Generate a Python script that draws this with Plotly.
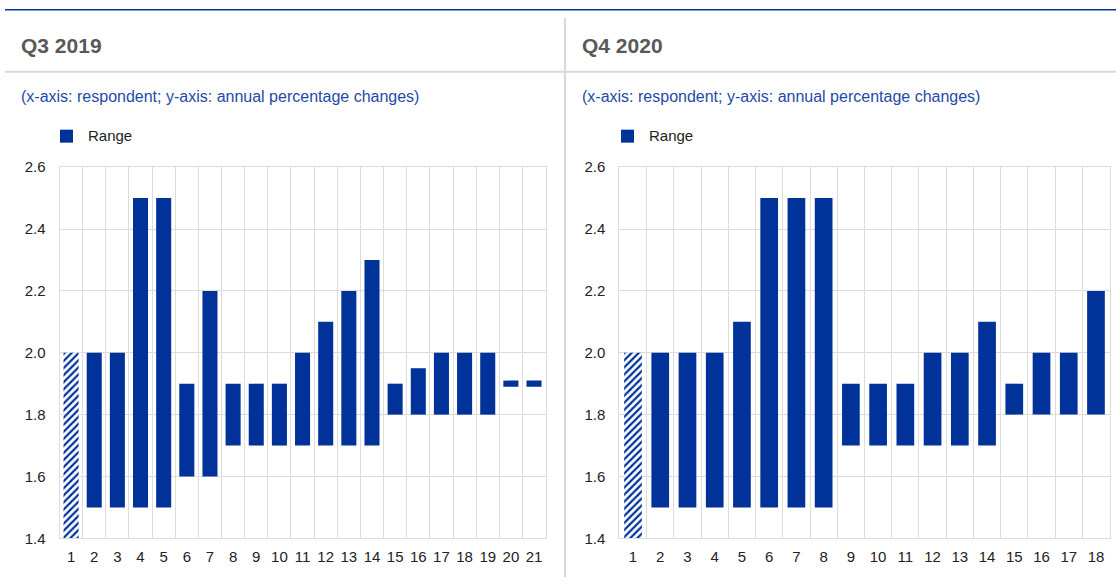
import plotly.graph_objects as go

BLUE = "#003299"
GRID = "#dcdcdc"
FONT = "Arial, Liberation Sans, sans-serif"

panel_titles = ["Q3 2019", "Q4 2020"]
subtitle = "(x-axis: respondent; y-axis: annual percentage changes)"
legend_label = "Range"

# Q3 2019 ranges (respondent 1 lower bound falls below the axis minimum)
q3_2019_resp = [str(i) for i in range(1, 22)]
q3_2019_low = [1.3, 1.5, 1.5, 1.5, 1.5, 1.6, 1.6, 1.7, 1.7, 1.7, 1.7, 1.7, 1.7, 1.7,
               1.8, 1.8, 1.8, 1.8, 1.8, 1.89, 1.89]
q3_2019_high = [2.0, 2.0, 2.0, 2.5, 2.5, 1.9, 2.2, 1.9, 1.9, 1.9, 2.0, 2.1, 2.2, 2.3,
                1.9, 1.95, 2.0, 2.0, 2.0, 1.91, 1.91]

# Q4 2020 ranges
q4_2020_resp = [str(i) for i in range(1, 19)]
q4_2020_low = [1.3, 1.5, 1.5, 1.5, 1.5, 1.5, 1.5, 1.5, 1.7, 1.7, 1.7, 1.7, 1.7, 1.7,
               1.8, 1.8, 1.8, 1.8]
q4_2020_high = [2.0, 2.0, 2.0, 2.0, 2.1, 2.5, 2.5, 2.5, 1.9, 1.9, 1.9, 2.0, 2.0, 2.1,
                1.9, 2.0, 2.0, 2.2]

y_min, y_max, y_step = 1.4, 2.6, 0.2

W, H = 1116, 585
# layout helpers: reference pixel position -> paper fraction
V_OFF, V_SCALE = 8.23, 0.9717
def px(x): return min(max(x / W, 0), 1)
def py(y): return min(max(1 - ((y - V_OFF) / V_SCALE) / H, 0), 1)

fig = go.Figure()

panels = [
    (q3_2019_resp, q3_2019_low, q3_2019_high, "x", "y"),
    (q4_2020_resp, q4_2020_low, q4_2020_high, "x2", "y2"),
]

for resp, low, high, xa, ya in panels:
    fig.add_trace(go.Bar(
        x=resp,
        y=[h - l for l, h in zip(low, high)],
        base=low,
        xaxis=xa, yaxis=ya,
        width=0.65,
        marker=dict(
            color=BLUE,
            line=dict(width=0),
            pattern=dict(
                shape=["/"] + [""] * (len(resp) - 1),
                fgcolor=BLUE, bgcolor="white", size=5, solidity=0.45,
                fillmode="replace",
            ),
        ),
        showlegend=False,
        hovertemplate="%{x}: %{base:.2f} – %{y:.2f}<extra></extra>",
    ))

ydom = [py(538), py(166.5)]
axis_common = dict(
    showgrid=True, gridcolor=GRID, gridwidth=1,
    showline=True, linecolor=GRID, linewidth=1, mirror=True,
    zeroline=False,
    tickfont=dict(family=FONT, size=15, color="#222222"),
)
fig.update_layout(
    width=W, height=H,
    margin=dict(l=0, r=0, t=0, b=0),
    paper_bgcolor="white", plot_bgcolor="white",
    xaxis=dict(domain=[px(59.5), px(545.6)], type="category", tickson="boundaries",
               tickangle=0, ticks="", ticklabelstandoff=5, anchor="y", **axis_common),
    yaxis=dict(domain=ydom, range=[y_min, y_max], dtick=y_step, tick0=y_min,
               tickformat=".1f", ticks="", ticklabelstandoff=10, anchor="x", **axis_common),
    xaxis2=dict(domain=[px(619.4), px(1109.6)], type="category", tickson="boundaries",
                tickangle=0, ticks="", ticklabelstandoff=5, anchor="y2", **axis_common),
    yaxis2=dict(domain=ydom, range=[y_min, y_max], dtick=y_step, tick0=y_min,
                tickformat=".1f", ticks="", ticklabelstandoff=10, anchor="x2", **axis_common),
    showlegend=False,
)

top_y = 1 - 0.75 / H
shapes = [
    dict(type="line", xref="paper", yref="paper", x0=px(5), x1=1, y0=top_y, y1=top_y,
         line=dict(color=BLUE, width=1.5)),
    dict(type="line", xref="paper", yref="paper", x0=px(5), x1=1, y0=py(71), y1=py(71),
         line=dict(color="#d9d9d9", width=2)),
    dict(type="line", xref="paper", yref="paper", x0=px(565), x1=px(565), y0=0, y1=py(17),
         line=dict(color="#d9d9d9", width=2)),
]
annotations = []
for title, x0 in zip(panel_titles, [20, 581]):
    annotations.append(dict(xref="paper", yref="paper", x=px(x0 - 1), y=py(44.5), text=f"<b>{title}</b>",
                            showarrow=False, xanchor="left", yanchor="middle",
                            font=dict(family=FONT, size=21, color="#595959")))
    annotations.append(dict(xref="paper", yref="paper", x=px(x0 - 1), y=py(96), text=subtitle,
                            showarrow=False, xanchor="left", yanchor="middle",
                            font=dict(family=FONT, size=16, color="#1f4aa8")))
    lx = x0 + 40
    shapes.append(dict(type="rect", xref="paper", yref="paper",
                       x0=px(lx), x1=px(lx + 13), y0=py(142), y1=py(129),
                       fillcolor=BLUE, line=dict(width=0)))
    annotations.append(dict(xref="paper", yref="paper", x=px(lx + 26), y=py(135), text=legend_label,
                            showarrow=False, xanchor="left", yanchor="middle",
                            font=dict(family=FONT, size=15, color="#222222")))

fig.update_layout(shapes=shapes, annotations=annotations)
fig.write_html(
    "out.html",
    config={"displayModeBar": False},
    post_script="document.documentElement.style.margin='0';"
                "document.body.style.margin='0';"
                "document.body.style.overflow='hidden';",
)
